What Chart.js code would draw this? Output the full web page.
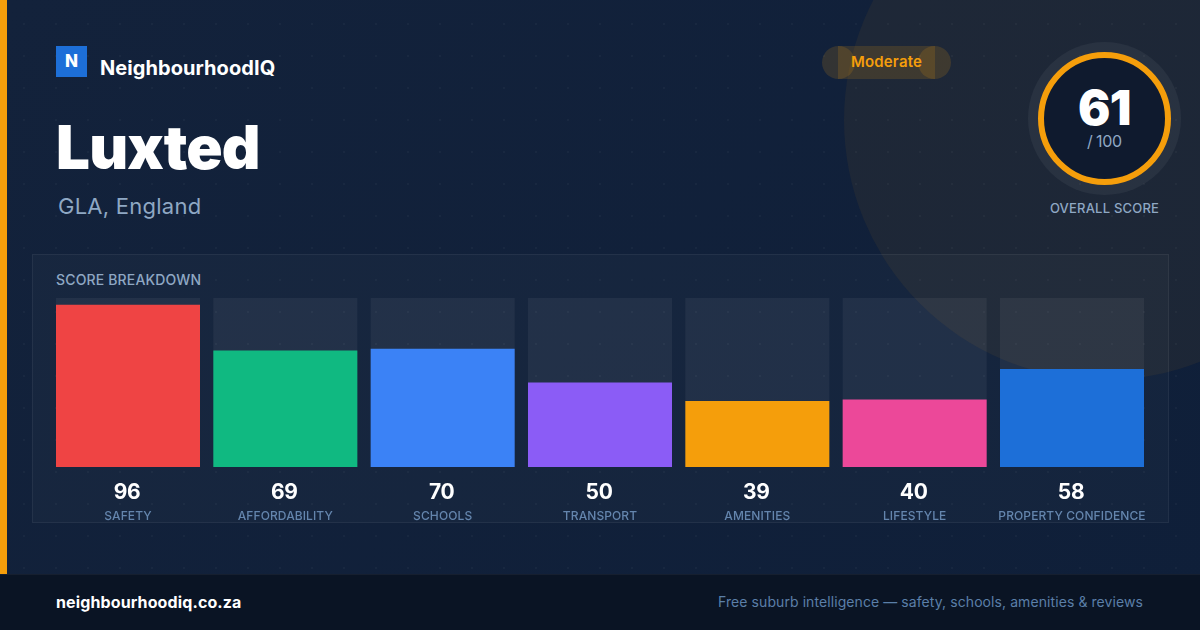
<!DOCTYPE html>
<html>
<head>
<meta charset="utf-8">
<script src="https://cdn.jsdelivr.net/npm/chart.js@4"></script>
<style>
  * { margin: 0; padding: 0; box-sizing: border-box; }
  body { width: 1200px; height: 630px; overflow: hidden; font-family: Inter, sans-serif; background: linear-gradient(135deg, #13223b, #0f1f39); position: relative; }
  .abs { position: absolute; white-space: nowrap; }
  #dots { left: 0; top: 0; width: 1200px; height: 630px; background-image: radial-gradient(circle at 24px 24px, rgba(255,255,255,.03) 1px, transparent 1.5px); background-size: 32px 32px; }
  #glow { left: 844px; top: -140px; width: 520px; height: 520px; border-radius: 50%; background: rgba(245,158,11,.06); }
  #edge { left: 0; top: 0; width: 7px; height: 630px; background: #f59e0b; }
  #logo { left: 56px; top: 46px; width: 31px; height: 31px; background: #1d6fd8; color: #fff; font-weight: 800; font-size: 17px; text-align: center; line-height: 30px; }
  #brand { left: 100px; top: 56px; font-size: 20px; line-height: 24px; font-weight: 700; color: #fff; letter-spacing: .07px; }
  #title { left: 56px; top: 111px; font-size: 60px; line-height: 72px; font-weight: 900; color: #fff; letter-spacing: -.8px; }
  #sub { left: 58px; top: 192px; font-size: 22px; line-height: 28px; color: #8fa8c4; letter-spacing: .25px; }
  .pill { background: rgba(245,158,11,.15); top: 46px; height: 33px; }
  #pillL, #pillR { width: 33px; border-radius: 50%; }
  #pillL { left: 822px; } #pillR { left: 918px; }
  #pillM { left: 838px; width: 97px; color: #f59e0b; font-size: 15px; font-weight: 600; line-height: 31px; text-align: center; letter-spacing: .2px; }
  #ring { left: 1038px; top: 52px; width: 133px; height: 133px; border-radius: 50%; border: 6px solid #f59e0b; background: #0f1a2e; box-shadow: 0 0 0 10px rgba(255,255,255,.05); }
  #score { left: 1038px; width: 133px; top: 80px; text-align: center; font-size: 48px; line-height: 56px; font-weight: 900; color: #fff; letter-spacing: -.5px; }
  #outof { left: 1038px; width: 133px; top: 131px; text-align: center; font-size: 16px; line-height: 20px; color: #8fa8c4; letter-spacing: -.2px; word-spacing: -1px; }
  #overall { left: 1038px; width: 133px; top: 199px; text-align: center; font-size: 13px; line-height: 18px; font-weight: 500; color: #8fa8c4; letter-spacing: .2px; }
  #panel { left: 32px; top: 254px; width: 1137px; height: 269px; background: rgba(255,255,255,.025); border: 1px solid rgba(255,255,255,.06); }
  #panelTitle { left: 56px; top: 271px; font-size: 14px; line-height: 18px; font-weight: 500; color: #8fa8c4; letter-spacing: .16px; }
  #foot { left: 0; top: 574px; width: 1200px; height: 56px; background: #0a1424; border-top: 1px solid rgba(255,255,255,.05); }
  #site { left: 56px; top: 592px; font-size: 16px; line-height: 20px; font-weight: 700; color: #fff; letter-spacing: .12px; }
  #tag { right: 57px; top: 593px; font-size: 14px; line-height: 18px; color: #5b7fa8; letter-spacing: .08px; }
  #wrap { left: 0; top: 0; width: 1200px; height: 630px; }
</style>
</head>
<body>
<div class="abs" id="glow"></div>
<div class="abs" id="dots"></div>
<div class="abs" id="edge"></div>
<div class="abs" id="logo">N</div>
<div class="abs" id="brand">NeighbourhoodIQ</div>
<div class="abs" id="title">Luxted</div>
<div class="abs" id="sub">GLA, England</div>
<div class="abs pill" id="pillL"></div>
<div class="abs pill" id="pillR"></div>
<div class="abs pill" id="pillM">Moderate</div>
<div class="abs" id="ring"></div>
<div class="abs" id="score"></div>
<div class="abs" id="outof"></div>
<div class="abs" id="overall">OVERALL SCORE</div>
<div class="abs" id="panel"></div>
<div class="abs" id="panelTitle">SCORE BREAKDOWN</div>
<div class="abs" id="foot"></div>
<div class="abs" id="site">neighbourhoodiq.co.za</div>
<div class="abs" id="tag">Free suburb intelligence — safety, schools, amenities &amp; reviews</div>
<div class="abs" id="wrap"><canvas id="scoreChart" width="1200" height="630"></canvas></div>

<script>
const categories = ["SAFETY", "AFFORDABILITY", "SCHOOLS", "TRANSPORT", "AMENITIES", "LIFESTYLE", "PROPERTY CONFIDENCE"];
const scores = [96, 69, 70, 50, 39, 40, 58];
const trackValues = [100, 100, 100, 100, 100, 100, 100];
const barColors = ["#ef4444", "#10b981", "#3b82f6", "#8b5cf6", "#f59e0b", "#ec4899", "#1d6fd8"];
const overallScore = 61;
const overallMax = 100;

document.getElementById("score").textContent = overallScore;
document.getElementById("outof").textContent = "/ " + overallMax;

/* score numbers sit between the bars and the axis labels */
const valueLabels = {
  id: "valueLabels",
  beforeDraw(chart) {
    chart.ctx.letterSpacing = "0.1px";
  },
  afterDraw(chart) {
    const { ctx, scales, chartArea } = chart;
    ctx.save();
    ctx.letterSpacing = "-0.3px";
    ctx.font = "700 21px Inter";
    ctx.fillStyle = "#ffffff";
    ctx.textAlign = "center";
    ctx.textBaseline = "middle";
    scores.forEach((v, i) => {
      ctx.fillText(v, scales.x.getPixelForValue(i) - 1, chartArea.bottom + 26);
    });
    ctx.restore();
  }
};

new Chart(document.getElementById("scoreChart"), {
  type: "bar",
  data: {
    labels: categories,
    datasets: [
      { data: scores, backgroundColor: barColors, order: 1 },
      { data: trackValues, backgroundColor: "rgba(255,255,255,.055)", order: 2 }
    ]
  },
  options: {
    responsive: false,
    animation: false,
    devicePixelRatio: 1,
    layout: { padding: { left: 49.33, right: 49.33, top: 298, bottom: 64.6 } },
    datasets: { bar: { grouped: false, categoryPercentage: 0.9153, barPercentage: 1, borderWidth: 0 } },
    plugins: { legend: { display: false }, tooltip: { enabled: false } },
    scales: {
      x: {
        grid: { display: false, drawTicks: false },
        border: { display: false },
        ticks: {
          autoSkip: false,
          maxRotation: 0,
          padding: 42,
          color: "#6485ad",
          font: { family: "Inter", size: 12, weight: "500" }
        }
      },
      y: { display: false, min: 0, max: 100 }
    }
  },
  plugins: [valueLabels]
});
</script>
</body>
</html>
